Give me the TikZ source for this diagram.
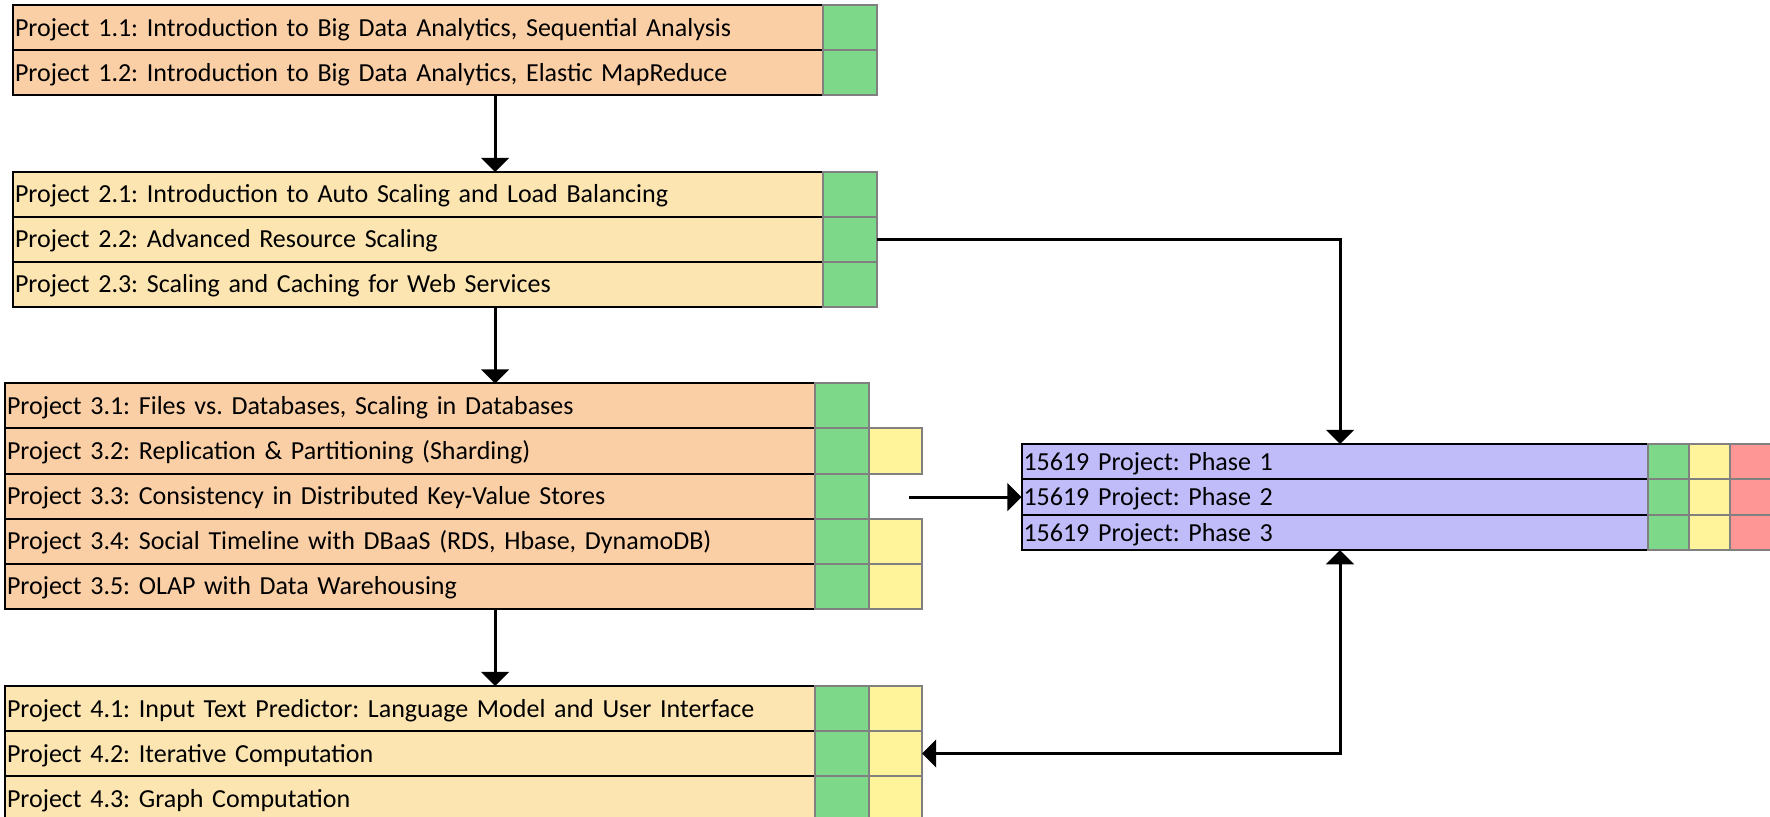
\documentclass[tikz,border=0pt]{standalone}
\usepackage{fontspec}
\setmainfont{Carlito}
\usetikzlibrary{shapes,arrows}
\usetikzlibrary{positioning}

\definecolor{peach}{RGB}{251,207,165}
\definecolor{sand}{RGB}{252,229,177}
\definecolor{lavender}{RGB}{192,188,250}
\definecolor{okgreen}{RGB}{125,216,137}
\definecolor{warnyellow}{RGB}{255,244,153}
\definecolor{badred}{RGB}{255,150,150}
\definecolor{cellgray}{RGB}{128,128,128}

\begin{document}
\frenchspacing
\begin{tikzpicture}[x=0.5pt,y=-0.5pt]
    % projects on the left, the team project on the right
    \tikzstyle{row} = [draw,rectangle,line width=1pt,outer sep=0pt,inner xsep=1pt,inner ysep=0pt,minimum height=22.5pt,text width=403pt,text height=11.5pt,text depth=3pt,align=left,font=\fontsize{13}{15}\selectfont]
    \tikzstyle{orange} = [row,fill=peach]
    \tikzstyle{tan} = [row,fill=sand]
    \tikzstyle{phase} = [row,fill=lavender,text width=311pt,minimum height=17.7pt]
    \tikzstyle{cell} = [draw=cellgray,rectangle,line width=1pt,outer sep=0pt,inner sep=0pt,minimum width=26.75pt,minimum height=22.5pt]
    \tikzstyle{pcell} = [cell,minimum width=20.5pt,minimum height=17.7pt]
    \tikzstyle{conn} = [line width=1.5pt,-triangle 90]

    \useasboundingbox (0,0) rectangle (1770,817);

    \node[orange,anchor=north west] (p11) at (13,5.5) {Project 1.1: Introduction to Big Data Analytics, Sequential Analysis};
    \node[orange,below=0pt of p11] (p12) {Project 1.2: Introduction to Big Data Analytics, Elastic MapReduce};
    \node[cell,fill=okgreen,right=0pt of p11] (g11) {};
    \node[cell,fill=okgreen,right=0pt of p12] (g12) {};

    \node[tan,anchor=north west] (p21) at (13,172) {Project 2.1: Introduction to Auto Scaling and Load Balancing};
    \node[tan,below=0pt of p21] (p22) {Project 2.2: Advanced Resource Scaling};
    \node[tan,below=0pt of p22] (p23) {Project 2.3: Scaling and Caching for Web Services};
    \node[cell,fill=okgreen,right=0pt of p21] (g21) {};
    \node[cell,fill=okgreen,right=0pt of p22] (g22) {};
    \node[cell,fill=okgreen,right=0pt of p23] (g23) {};

    \node[orange,anchor=north west] (p31) at (5,383.5) {Project 3.1: Files vs. Databases, Scaling in Databases};
    \node[orange,below=0pt of p31] (p32) {Project 3.2: Replication \& Partitioning (Sharding)};
    \node[orange,below=0pt of p32] (p33) {Project 3.3: Consistency in Distributed Key-Value Stores};
    \node[orange,below=0pt of p33] (p34) {Project 3.4: Social Timeline with DBaaS (RDS, Hbase, DynamoDB)};
    \node[orange,below=0pt of p34] (p35) {Project 3.5: OLAP with Data Warehousing};
    \node[cell,fill=okgreen,right=0pt of p31] (g31) {};
    \node[cell,fill=okgreen,right=0pt of p32] (g32) {};
    \node[cell,fill=okgreen,right=0pt of p33] (g33) {};
    \node[cell,fill=okgreen,right=0pt of p34] (g34) {};
    \node[cell,fill=okgreen,right=0pt of p35] (g35) {};
    \node[cell,fill=warnyellow,right=0pt of g32] (y32) {};
    \node[cell,fill=warnyellow,right=0pt of g34] (y34) {};
    \node[cell,fill=warnyellow,right=0pt of g35] (y35) {};

    \node[tan,anchor=north west] (p41) at (5,686) {Project 4.1: Input Text Predictor: Language Model and User Interface};
    \node[tan,below=0pt of p41] (p42) {Project 4.2: Iterative Computation};
    \node[tan,below=0pt of p42] (p43) {Project 4.3: Graph Computation};
    \node[cell,fill=okgreen,right=0pt of p41] (g41) {};
    \node[cell,fill=okgreen,right=0pt of p42] (g42) {};
    \node[cell,fill=okgreen,right=0pt of p43] (g43) {};
    \node[cell,fill=warnyellow,right=0pt of g41] (y41) {};
    \node[cell,fill=warnyellow,right=0pt of g42] (y42) {};
    \node[cell,fill=warnyellow,right=0pt of g43] (y43) {};

    \node[phase,anchor=north west] (ph1) at (1021.5,444) {15619 Project: Phase 1};
    \node[phase,below=0pt of ph1] (ph2) {15619 Project: Phase 2};
    \node[phase,below=0pt of ph2] (ph3) {15619 Project: Phase 3};
    \node[pcell,fill=okgreen,right=0pt of ph1] (pg1) {};
    \node[pcell,fill=okgreen,right=0pt of ph2] (pg2) {};
    \node[pcell,fill=okgreen,right=0pt of ph3] (pg3) {};
    \node[pcell,fill=warnyellow,right=0pt of pg1] (py1) {};
    \node[pcell,fill=warnyellow,right=0pt of pg2] (py2) {};
    \node[pcell,fill=warnyellow,right=0pt of pg3] (py3) {};
    \node[pcell,fill=badred,right=0pt of py1] (pr1) {};
    \node[pcell,fill=badred,right=0pt of py2] (pr2) {};
    \node[pcell,fill=badred,right=0pt of py3] (pr3) {};

    \coordinate (spine) at (495,0);
    \coordinate (drop) at (1340,0);
    \coordinate (in33) at (909,0);

    \draw[conn] (p12.south -| spine) -- (p21.north -| spine);
    \draw[conn] (p23.south -| spine) -- (p31.north -| spine);
    \draw[conn] (p35.south -| spine) -- (p41.north -| spine);
    \draw[conn] (g22.east) -| (ph1.north -| drop);
    \draw[conn] (in33 |- ph2.west) -- (ph2.west);
    \draw[line width=1.5pt,triangle 90-triangle 90] (ph3.south -| drop) |- (y42.east);

\end{tikzpicture}
\end{document}
